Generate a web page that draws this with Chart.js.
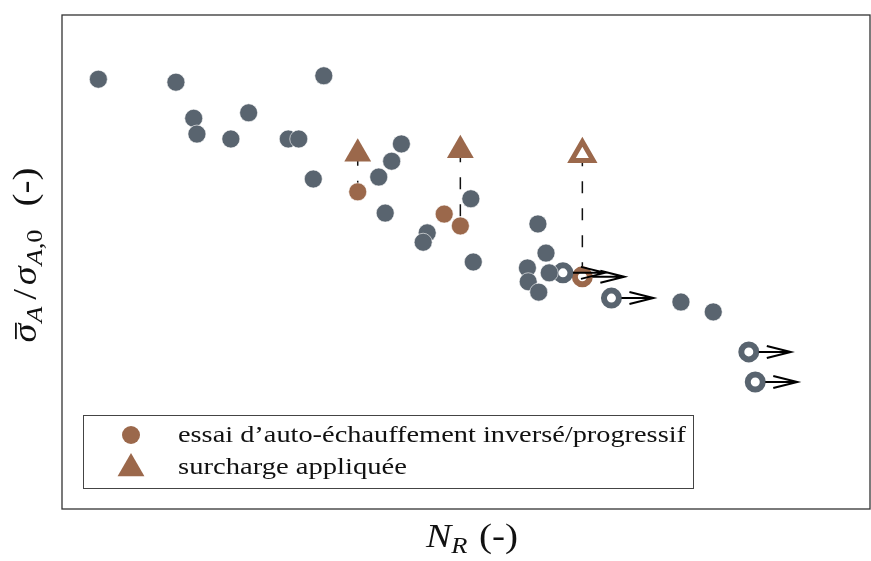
<!DOCTYPE html>
<html>
<head>
<meta charset="utf-8">
<script src="https://cdn.jsdelivr.net/npm/chart.js@4.4.0/dist/chart.umd.min.js"></script>
<style>
  body { margin: 0; background: #fff; }
  #wrap { width: 871px; height: 561px; }
</style>
</head>
<body>
<div id="wrap"><canvas id="ctx" width="871" height="561"></canvas></div>
<script>
// essais à rupture
var rompuX = [4.5, 14.1, 16.3, 16.7, 23.1, 20.9, 28.0, 29.3, 31.1, 32.4, 42.0, 40.8, 39.2, 40.0,
              45.2, 44.7, 50.6, 50.9, 58.9, 59.9, 57.6, 57.7, 59.0, 60.3, 76.6, 80.6];
var rompuY = [0.870, 0.864, 0.791, 0.759, 0.802, 0.749, 0.749, 0.749, 0.668, 0.877, 0.739, 0.704, 0.672, 0.599,
              0.559, 0.540, 0.628, 0.500, 0.577, 0.518, 0.488, 0.460, 0.439, 0.478, 0.419, 0.399];
// essais non rompus (runout)
var nonRompuX = [62.0, 68.0, 85.0, 85.8];
var nonRompuY = [0.478, 0.427, 0.318, 0.257];
// auto-échauffement
var autoX = [36.6, 47.3, 49.3];
var autoY = [0.642, 0.597, 0.573];
var autoNonRompuX = [64.4];
var autoNonRompuY = [0.470];
// surcharge appliquée
var surchargeX = [36.6, 49.3];
var surchargeY = [0.719, 0.726];
var surchargeNonRompuX = [64.4];
var surchargeNonRompuY = [0.718];
// niveau avant surcharge (pour les pointillés)
var lienX = [36.6, 49.3, 64.4];
var lienHaut = [0.719, 0.726, 0.718];
var lienBas = [0.642, 0.573, 0.470];

var gris = '#59646f';
var brun = '#9b684b';
var serif = '"Liberation Serif", "Times New Roman", serif';

function pts(xs, ys) {
    return xs.map(function (x, i) { return { x: x, y: ys[i] }; });
}

var datasets = [
    { data: pts(rompuX, rompuY), backgroundColor: gris, borderColor: '#ffffff', borderWidth: 0.6, pointRadius: 9 },
    { data: pts(autoX, autoY), backgroundColor: brun, borderColor: '#ffffff', borderWidth: 0.6, pointRadius: 9 },
    { data: pts(nonRompuX, nonRompuY), backgroundColor: '#ffffff', borderColor: gris, borderWidth: 6, pointRadius: 7.5 },
    { data: pts(autoNonRompuX, autoNonRompuY), backgroundColor: '#ffffff', borderColor: brun, borderWidth: 6, pointRadius: 7.5 },
    { data: pts(surchargeX, surchargeY), backgroundColor: brun, borderColor: brun, borderWidth: 0, pointRadius: 15.5, pointStyle: 'triangle' },
    { data: pts(surchargeNonRompuX, surchargeNonRompuY), backgroundColor: '#ffffff', borderColor: brun, borderWidth: 5, pointRadius: 12.5, pointStyle: 'triangle' }
];
lienX.forEach(function (x, i) {
    datasets.push({
        type: 'line',
        data: [{ x: x, y: lienHaut[i] }, { x: x, y: lienBas[i] }],
        borderColor: '#111111', borderWidth: 1.5, borderDash: [12, 15],
        pointRadius: 0, fill: false
    });
});

// fleches des essais non rompus
var fleches = {
    id: 'fleches',
    afterDatasetsDraw: function (chart) {
        var c = chart.ctx, xs = chart.scales.x, ys = chart.scales.y;
        var all = pts(nonRompuX, nonRompuY).concat(pts(autoNonRompuX, autoNonRompuY));
        c.save();
        c.strokeStyle = '#000';
        c.lineWidth = 2;
        all.forEach(function (p) {
            var px = xs.getPixelForValue(p.x), py = ys.getPixelForValue(p.y);
            var x0 = px + 10, x1 = px + 42;
            c.beginPath();
            c.moveTo(x0, py); c.lineTo(x1, py);
            c.moveTo(x1 - 24, py - 6); c.lineTo(x1, py); c.lineTo(x1 - 24, py + 6);
            c.stroke();
        });
        c.restore();
    }
};

// texte composé (indices, barre), étiré horizontalement façon Computer Modern
function runs(c, list, x, y, etire) {
    var w = 0;
    list.forEach(function (r) { c.font = r.f; r.w = c.measureText(r.t).width + (r.gap || 0); w += r.w; });
    c.save();
    c.translate(x, y);
    c.scale(etire, 1);
    var cx = -w / 2;
    list.forEach(function (r) {
        c.font = r.f;
        c.fillText(r.t, cx + (r.pre || 0), r.dy || 0);
        if (r.bar) {
            c.fillRect(cx + 3, -21, r.w - 3, 1.8);
        }
        cx += r.w;
    });
    c.restore();
}

function texteLarge(c, t, x, y, largeur) {
    var w = c.measureText(t).width;
    c.save();
    c.translate(x, y);
    c.scale(largeur / w, 1);
    c.fillText(t, 0, 0);
    c.restore();
}

var decor = {
    id: 'decor',
    afterDraw: function (chart) {
        var c = chart.ctx, a = chart.chartArea;
        c.save();
        // cadre
        c.strokeStyle = '#333';
        c.lineWidth = 1.3;
        c.strokeRect(a.left, a.top, a.right - a.left, a.bottom - a.top);

        // legende
        c.fillStyle = '#fff';
        c.fillRect(83, 415, 610, 73);
        c.strokeStyle = '#444';
        c.lineWidth = 1;
        c.strokeRect(83.5, 415.5, 610, 73);
        c.fillStyle = brun;
        c.beginPath(); c.arc(131, 435, 9, 0, Math.PI * 2); c.fill();
        var r = 15.5, tx = 131, ty = 468.5;
        c.beginPath();
        c.moveTo(tx, ty - r);
        c.lineTo(tx + r * Math.sin(2 * Math.PI / 3), ty + r / 2);
        c.lineTo(tx - r * Math.sin(2 * Math.PI / 3), ty + r / 2);
        c.closePath(); c.fill();
        c.fillStyle = '#111';
        c.font = '24px ' + serif;
        c.textBaseline = 'alphabetic';
        texteLarge(c, 'essai d\u2019auto-\u00e9chauffement invers\u00e9/progressif', 178, 442, 508);
        texteLarge(c, 'surcharge appliqu\u00e9e', 178, 474, 229);

        // titre axe x
        var it = 'italic 33px ' + serif, up = '34px ' + serif, sub = 'italic 23px ' + serif, subUp = '23px ' + serif;
        runs(c, [{ t: 'N', f: it }, { t: 'R', f: sub, dy: 6, gap: 10 }, { t: '(-)', f: up }], 472, 547, 1.15);

        // titre axe y
        c.translate(36, 255);
        c.rotate(-Math.PI / 2);
        runs(c, [
            { t: '\u03c3', f: it, bar: true, gap: 1 }, { t: 'A', f: sub, dy: 6, gap: 4 },
            { t: '/', f: up, gap: 5, pre: 2 },
            { t: '\u03c3', f: it, gap: 1 }, { t: 'A', f: sub, dy: 6 }, { t: ',0', f: subUp, dy: 6, gap: 20 },
            { t: '(-)', f: up }
        ], 0, 0, 1.15);
        c.restore();
    }
};

var myChart = new Chart(document.getElementById('ctx').getContext('2d'), {
    type: 'scatter',
    data: { datasets: datasets },
    options: {
        responsive: false,
        animation: false,
        layout: { autoPadding: false, padding: { left: 62, top: 15, right: 1, bottom: 52 } },
        plugins: { legend: { display: false }, tooltip: { enabled: false } },
        scales: {
            x: { type: 'linear', min: 0, max: 100, grid: { display: false, drawTicks: false }, ticks: { display: false }, border: { display: false } },
            y: { type: 'linear', min: 0, max: 1, grid: { display: false, drawTicks: false }, ticks: { display: false }, border: { display: false } }
        }
    },
    plugins: [fleches, decor]
});
</script>
</body>
</html>
